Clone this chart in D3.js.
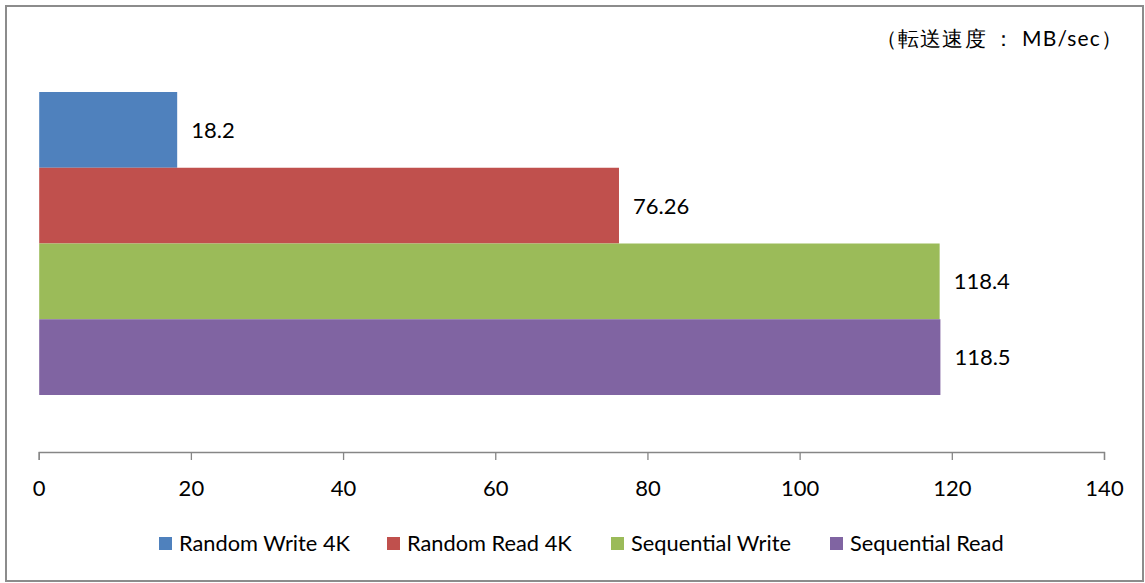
<!DOCTYPE html>
<html><head><meta charset="utf-8">
<script src="https://cdn.jsdelivr.net/npm/d3@7"></script>
<style>
html,body{margin:0;padding:0;background:#fff;}
svg{display:block;}
text{font-family:Lato,"Open Sans",sans-serif;fill:#000;}
</style></head>
<body>
<svg id="chart" width="1145" height="583"></svg>
<script>
const categories = ["Random Write 4K","Random Read 4K","Sequential Write","Sequential Read"];
const values = [18.2, 76.26, 118.4, 118.5];
const valueLabels = ["18.2","76.26","118.4","118.5"];
const colors = ["#4F81BD","#C0504D","#9BBB59","#8064A2"];
const tickValues = [0,20,40,60,80,100,120,140];
const unitLabel = "（転送速度 ： MB/sec）";

const svg = d3.select("#chart");
// outer frame
svg.append("rect").attr("x",6).attr("y",6).attr("width",1137).attr("height",575)
  .attr("fill","#fff").attr("stroke","#8c8c8c").attr("stroke-width",2);

const x = d3.scaleLinear().domain([0,140]).range([38.7,1104]);
const y = d3.scaleBand().domain(categories).range([92,395]).padding(0);

// bars
svg.append("g").selectAll("rect").data(categories).join("rect")
  .attr("x", x(0)+0.5)
  .attr("y", d=>y(d))
  .attr("width", (d,i)=>x(values[i])-x(0)-0.5)
  .attr("height", y.bandwidth())
  .attr("fill",(d,i)=>colors[i]);

// value labels
svg.append("g").selectAll("text").data(categories).join("text")
  .attr("x",(d,i)=>x(values[i])+14)
  .attr("y",d=>y(d)+y.bandwidth()/2+8)
  .attr("font-size",22)
  .text((d,i)=>valueLabels[i]);

// axis
const axis = d3.axisBottom(x).tickValues(tickValues).tickSize(8).tickSizeOuter(8).tickFormat(d3.format("d"));
const ag = svg.append("g").attr("transform","translate(0,452)").call(axis);
ag.select(".domain").attr("stroke","#868686").attr("stroke-width",1.3);
ag.selectAll(".tick line").attr("stroke","#868686").attr("stroke-width",1.3);
ag.selectAll(".tick text").attr("font-family","Lato,sans-serif").attr("font-size",22)
  .attr("fill","#000").attr("y",44).attr("dy",0);

// unit label
svg.append("text").attr("x",1122).attr("y",46).attr("text-anchor","end")
  .attr("font-family","'Noto Sans CJK JP',sans-serif").attr("font-size",21)
  .attr("textLength",246).attr("lengthAdjust","spacing")
  .text(unitLabel);

// legend
const legendX = [159,387,611,830];
const lg = svg.append("g").selectAll("g").data(categories).join("g")
  .attr("transform",(d,i)=>`translate(${legendX[i]},0)`);
lg.append("rect").attr("x",0).attr("y",537).attr("width",13).attr("height",13)
  .attr("fill",(d,i)=>colors[i]);
lg.append("text").attr("x",20).attr("y",551).attr("font-size",21.8).text(d=>d);
</script>
</body></html>
